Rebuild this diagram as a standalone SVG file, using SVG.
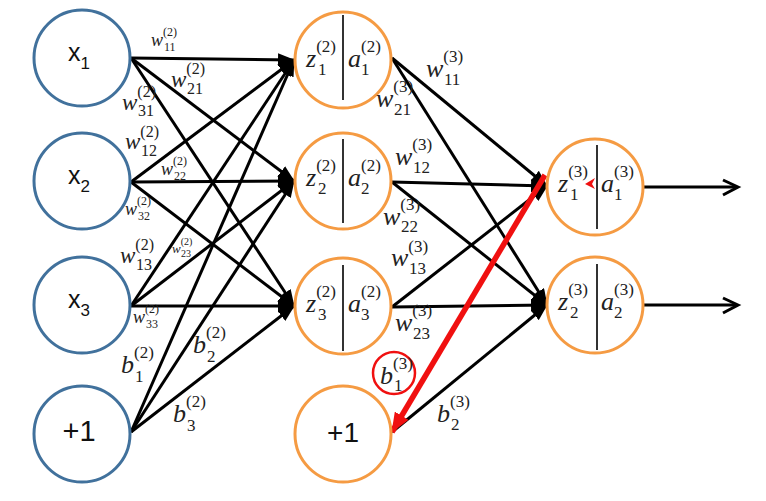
<svg xmlns="http://www.w3.org/2000/svg" width="766" height="501" viewBox="0 0 766 501">
<defs>
<style>
.bn{fill:#fff;stroke:#41719C;stroke-width:3}
.on{fill:#fff;stroke:#F59B43;stroke-width:3}
.dv{stroke:#333;stroke-width:2}
.c{stroke:#000;stroke-width:3;fill:none}
.sans{font-family:"Liberation Sans",Arial,sans-serif;fill:#111}
.lb{font-family:"Liberation Serif","Times New Roman",serif;font-style:italic;fill:#222}
.lb tspan{font-style:normal}
.M{font-size:26px}.M tspan{font-size:17px}
.L{font-size:23px}.L tspan{font-size:16px}
.S{font-size:18px}.S tspan{font-size:12px}
.XS{font-size:13px}.XS tspan{font-size:10px}
</style>
<marker id="ah" markerWidth="17" markerHeight="13" refX="16" refY="6.5" orient="auto" markerUnits="userSpaceOnUse"><path d="M0,0 L17,6.5 L0,13 z" fill="#000"/></marker>
<marker id="rh" markerWidth="20" markerHeight="16" refX="19" refY="8" orient="auto" markerUnits="userSpaceOnUse"><path d="M0,0 L20,8 L0,16 z" fill="#F01010"/></marker>
</defs>
<rect width="766" height="501" fill="#fff"/>

<g id="connectors">
<line class="c" x1="131" y1="58" x2="294" y2="60" marker-end="url(#ah)"/>
<line class="c" x1="131" y1="58" x2="294" y2="181" marker-end="url(#ah)"/>
<line class="c" x1="131" y1="58" x2="294" y2="306" marker-end="url(#ah)"/>
<line class="c" x1="131" y1="182" x2="294" y2="60" marker-end="url(#ah)"/>
<line class="c" x1="131" y1="182" x2="294" y2="181" marker-end="url(#ah)"/>
<line class="c" x1="131" y1="182" x2="294" y2="306" marker-end="url(#ah)"/>
<line class="c" x1="131" y1="306" x2="294" y2="60" marker-end="url(#ah)"/>
<line class="c" x1="131" y1="306" x2="294" y2="181" marker-end="url(#ah)"/>
<line class="c" x1="131" y1="306" x2="294" y2="306" marker-end="url(#ah)"/>
<line class="c" x1="131" y1="432" x2="294" y2="60" marker-end="url(#ah)"/>
<line class="c" x1="131" y1="432" x2="294" y2="181" marker-end="url(#ah)"/>
<line class="c" x1="131" y1="432" x2="294" y2="306" marker-end="url(#ah)"/>

<line class="c" x1="392" y1="58" x2="547" y2="186" marker-end="url(#ah)"/>
<line class="c" x1="392" y1="58" x2="547" y2="305" marker-end="url(#ah)"/>
<line class="c" x1="392" y1="182" x2="547" y2="186" marker-end="url(#ah)"/>
<line class="c" x1="392" y1="182" x2="547" y2="305" marker-end="url(#ah)"/>
<line class="c" x1="392" y1="307" x2="547" y2="186" marker-end="url(#ah)"/>
<line class="c" x1="392" y1="307" x2="547" y2="305" marker-end="url(#ah)"/>
<line class="c" x1="392" y1="432" x2="547" y2="305" marker-end="url(#ah)"/>
<line x1="545" y1="175" x2="392" y2="432" stroke="#F01010" stroke-width="5.5" marker-end="url(#rh)"/>

<line class="c" x1="644" y1="187" x2="737" y2="187"/>
<path class="c" d="M723,180 L738,187 L723,195"/>
<line class="c" x1="644" y1="305" x2="737" y2="305"/>
<path class="c" d="M723,298 L738,305 L723,313"/>
</g>

<g id="x1"><circle class="bn" cx="82" cy="58" r="48"/><text class="sans" x="68" y="61" font-size="25">x<tspan font-size="17" dy="8">1</tspan></text></g>
<g id="x2"><circle class="bn" cx="82" cy="181" r="48"/><text class="sans" x="68" y="184" font-size="25">x<tspan font-size="17" dy="8">2</tspan></text></g>
<g id="x3"><circle class="bn" cx="82" cy="305" r="48"/><text class="sans" x="68" y="308" font-size="25">x<tspan font-size="17" dy="8">3</tspan></text></g>
<g id="bias1"><circle class="bn" cx="82" cy="434" r="48"/><text class="sans" x="79" y="441" font-size="29" text-anchor="middle">+1</text></g>

<g id="h1"><circle class="on" cx="343" cy="60" r="48"/><line class="dv" x1="343" y1="15" x2="343" y2="100"/>
<text class="lb M" x="306" y="67">z<tspan dy="-15">(2)</tspan><tspan x="318" dy="23">1</tspan></text>
<text class="lb M" x="348" y="67">a<tspan dy="-15">(2)</tspan><tspan x="361" dy="23">1</tspan></text></g>
<g id="h2"><circle class="on" cx="343" cy="181" r="48"/><line class="dv" x1="343" y1="139" x2="343" y2="223"/>
<text class="lb M" x="306" y="186">z<tspan dy="-15">(2)</tspan><tspan x="318" dy="23">2</tspan></text>
<text class="lb M" x="348" y="186">a<tspan dy="-15">(2)</tspan><tspan x="361" dy="23">2</tspan></text></g>
<g id="h3"><circle class="on" cx="343" cy="306" r="48"/><line class="dv" x1="343" y1="265" x2="343" y2="351"/>
<text class="lb M" x="306" y="312">z<tspan dy="-15">(2)</tspan><tspan x="318" dy="23">3</tspan></text>
<text class="lb M" x="348" y="312">a<tspan dy="-15">(2)</tspan><tspan x="361" dy="23">3</tspan></text></g>
<g id="bias2"><circle class="on" cx="343" cy="434" r="48"/><text class="sans" x="343" y="442" font-size="28" text-anchor="middle">+1</text></g>

<g id="o1"><circle class="on" cx="595" cy="187" r="48"/><line class="dv" x1="597" y1="145" x2="597" y2="229"/>
<text class="lb M" x="558" y="192">z<tspan dy="-15">(3)</tspan><tspan x="570" dy="23">1</tspan></text>
<text class="lb M" x="601" y="192">a<tspan dy="-15">(3)</tspan><tspan x="614" dy="23">1</tspan></text>
<polygon points="585,184 595,178 592,184 595,189" fill="#F01010"/></g>
<g id="o2"><circle class="on" cx="595" cy="305" r="48"/><line class="dv" x1="597" y1="264" x2="597" y2="350"/>
<text class="lb M" x="558" y="310">z<tspan dy="-15">(3)</tspan><tspan x="570" dy="23">2</tspan></text>
<text class="lb M" x="601" y="310">a<tspan dy="-15">(3)</tspan><tspan x="614" dy="23">2</tspan></text></g>

<g id="labels">
<text class="lb S" x="151" y="46">w<tspan dy="-10">(2)</tspan><tspan x="164" dy="15">11</tspan></text>
<text class="lb L" x="171" y="87">w<tspan dy="-13">(2)</tspan><tspan x="187" dy="20">21</tspan></text>
<text class="lb L" x="122" y="110">w<tspan dy="-13">(2)</tspan><tspan x="138" dy="19">31</tspan></text>
<text class="lb L" x="125" y="149">w<tspan dy="-12">(2)</tspan><tspan x="141" dy="19">12</tspan></text>
<text class="lb S" x="161" y="175">w<tspan dy="-10">(2)</tspan><tspan x="174" dy="15">22</tspan></text>
<text class="lb S" x="125" y="215">w<tspan dy="-10">(2)</tspan><tspan x="138" dy="15">32</tspan></text>
<text class="lb L" x="120" y="263">w<tspan dy="-13">(2)</tspan><tspan x="136" dy="20">13</tspan></text>
<text class="lb XS" x="172" y="253">w<tspan dy="-8">(2)</tspan><tspan x="181" dy="12">23</tspan></text>
<text class="lb S" x="133" y="323">w<tspan dy="-10">(2)</tspan><tspan x="146" dy="15">33</tspan></text>
<text class="lb M" x="121" y="373">b<tspan dy="-15">(2)</tspan><tspan x="135" dy="24">1</tspan></text>
<text class="lb M" x="193" y="353">b<tspan dy="-15">(2)</tspan><tspan x="207" dy="24">2</tspan></text>
<text class="lb M" x="173" y="422">b<tspan dy="-15">(2)</tspan><tspan x="187" dy="24">3</tspan></text>

<text class="lb M" x="426" y="77">w<tspan dy="-15">(3)</tspan><tspan x="444" dy="23">11</tspan></text>
<text class="lb M" x="376" y="107">w<tspan dy="-15">(3)</tspan><tspan x="394" dy="23">21</tspan></text>
<text class="lb M" x="395" y="165">w<tspan dy="-15">(3)</tspan><tspan x="413" dy="23">12</tspan></text>
<text class="lb M" x="383" y="225">w<tspan dy="-15">(3)</tspan><tspan x="401" dy="22">22</tspan></text>
<text class="lb M" x="391" y="266">w<tspan dy="-14">(3)</tspan><tspan x="409" dy="22">13</tspan></text>
<text class="lb M" x="395" y="331">w<tspan dy="-15">(3)</tspan><tspan x="413" dy="23">23</tspan></text>
<circle cx="394" cy="373" r="21" fill="none" stroke="#F01010" stroke-width="2.5"/>
<text class="lb M" x="380" y="384">b<tspan dy="-15">(3)</tspan><tspan x="394" dy="22">1</tspan></text>
<text class="lb M" x="437" y="422">b<tspan dy="-15">(3)</tspan><tspan x="451" dy="23">2</tspan></text>
</g>
</svg>
